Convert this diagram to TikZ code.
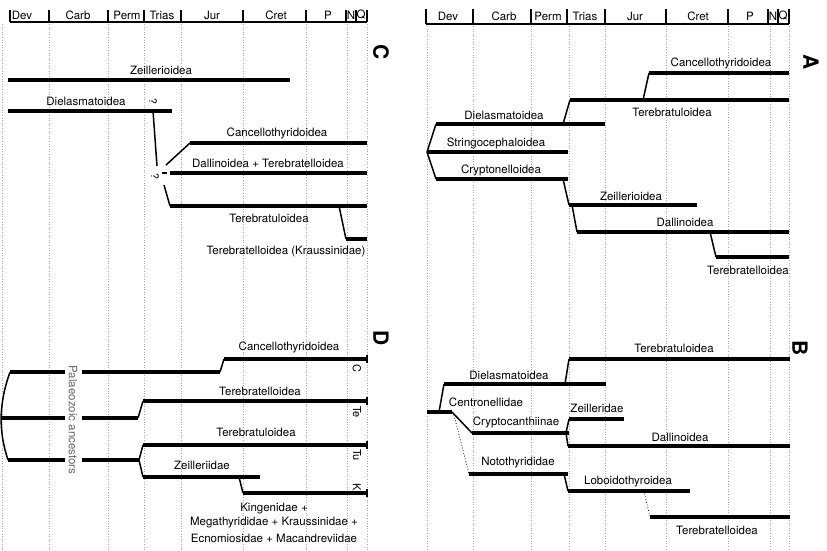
\documentclass[tikz,border=0pt]{standalone}
\usepackage{fontspec}
\setmainfont{TeX Gyre Heros}
\begin{document}
\begin{tikzpicture}[x=1pt,y=-1pt,
  lin/.style={line width=3.1pt},
  br/.style={line width=1.5pt},
  brdot/.style={line width=0.8pt, dotted},
  gridl/.style={black!35, dotted, line width=0.6pt},
  hdr/.style={line width=1.2pt},
  lbl/.style={font=\fontsize{11.5}{13}\selectfont, inner sep=0pt},
  per/.style={font=\fontsize{11.5}{13}\selectfont, inner sep=0pt},
  pan/.style={font=\bfseries\fontsize{21}{23}\selectfont, rotate=-90, inner sep=0pt},
  sml/.style={font=\fontsize{11}{12}\selectfont, rotate=-90, inner sep=0pt},
  qm/.style={font=\fontsize{10.5}{11}\selectfont, rotate=-90, inner sep=0pt}]
\useasboundingbox (0,0) rectangle (827,550);

% ---------------- grid (dotted) ----------------
\foreach \x in {2,49,108,144,181,243,306,347,367} {
  \coordinate (gl\x t) at (\x,24); \coordinate (gl\x b) at (\x,550);
  \draw[gridl] (gl\x t) -- (gl\x b);}
\foreach \x in {427,473,531,569,605,666,728,770,789} {
  \coordinate (gr\x t) at (\x,26); \coordinate (gr\x b) at (\x,550);
  \draw[gridl] (gr\x t) -- (gr\x b);}

% ---------------- headers ----------------
\coordinate (hlS) at (10,22); \coordinate (hlE) at (367,22);
\draw[hdr] (hlS) -- (hlE);
\foreach \x in {10,49,108,144,181,243,306,346,356,367} {
  \coordinate (hlt\x) at (\x,10); \coordinate (hlb\x) at (\x,22);
  \draw[hdr] (hlt\x) -- (hlb\x);}
\node[per] (lDev) at (22,15) {Dev};
\node[per] (lCarb) at (78,15) {Carb};
\node[per] (lPerm) at (127,15) {Perm};
\node[per] (lTrias) at (162,15) {Trias};
\node[per] (lJur) at (212,15) {Jur};
\node[per] (lCret) at (276,15) {Cret};
\node[per] (lP) at (328,15) {P};
\node[per] (lN) at (351,15) {N};
\node[per] (lQ) at (361,15) {Q};

\coordinate (hrS) at (426,24); \coordinate (hrE) at (789,24);
\draw[hdr] (hrS) -- (hrE);
\foreach \x in {426,473,531,567,605,666,728,768,778,789} {
  \coordinate (hrt\x) at (\x,9); \coordinate (hrb\x) at (\x,24);
  \draw[hdr] (hrt\x) -- (hrb\x);}
\node[per] (rDev) at (448,16) {Dev};
\node[per] (rCarb) at (504,16) {Carb};
\node[per] (rPerm) at (548,16) {Perm};
\node[per] (rTrias) at (585,16) {Trias};
\node[per] (rJur) at (635,16) {Jur};
\node[per] (rCret) at (698,16) {Cret};
\node[per] (rP) at (750,16) {P};
\node[per] (rN) at (773,16) {N};
\node[per] (rQ) at (783,16) {Q};

% ---------------- panel letters ----------------
\node[pan] (pC) at (381,52) {C};
\node[pan] (pD) at (381,338) {D};
\node[pan] (pA) at (811,62) {A};
\node[pan] (pB) at (800,348) {B};

% ---------------- panel C ----------------
\coordinate (cZeS) at (8,80); \coordinate (cZeE) at (290,80);
\draw[lin] (cZeS) -- (cZeE);
\node[lbl] (tcZe) at (161,70) {Zeillerioidea};
\coordinate (cDiS) at (8,111); \coordinate (cDiE) at (172,111);
\draw[lin] (cDiS) -- (cDiE);
\node[lbl] (tcDi) at (86,101) {Dielasmatoidea};
\node[qm] (q1) at (153,101) {?};
\coordinate (cDiB) at (153,111); \coordinate (cQB) at (157,166);
\draw[br] (cDiB) -- (cQB);
\node[qm] (q2) at (155,176) {?};
\coordinate (cCaJ) at (166,165); \coordinate (cCaS) at (190,143); \coordinate (cCaE) at (367,143);
\draw[br] (cCaJ) -- (cCaS); \draw[lin] (cCaS) -- (cCaE);
\node[lbl] (tcCa) at (277,133) {Cancellothyridoidea};
\coordinate (cDaD1) at (162,173); \coordinate (cDaD2) at (167,173);
\draw[br] (cDaD1) -- (cDaD2);
\coordinate (cDaS) at (170,173); \coordinate (cDaE) at (367,173);
\draw[lin] (cDaS) -- (cDaE);
\node[lbl] (tcDa) at (268,163) {Dallinoidea + Terebratelloidea};
\coordinate (cTeJ) at (164,185); \coordinate (cTeS) at (170,206); \coordinate (cTeE) at (367,206);
\draw[br] (cTeJ) -- (cTeS); \draw[lin] (cTeS) -- (cTeE);
\node[lbl] (tcTe) at (269,218) {Terebratuloidea};
\coordinate (cKrJ) at (339,206); \coordinate (cKrS) at (346,239); \coordinate (cKrE) at (367,239);
\draw[br] (cKrJ) -- (cKrS); \draw[lin] (cKrS) -- (cKrE);
\node[lbl] (tcKr) at (286,252) {Terebratelloidea (Kraussinidae)};

% ---------------- panel D ----------------
\coordinate (dRoot) at (1,418);
\coordinate (dT0) at (10,372); \coordinate (dTg1) at (65,372);
\coordinate (dTg2) at (82,372); \coordinate (dTj) at (220,372);
\coordinate (dTs) at (224,359); \coordinate (dTe) at (367,359);
\draw[br] (dRoot) to[bend left=8] (dT0);
\draw[lin] (dT0) -- (dTg1); \draw[lin] (dTg2) -- (dTj);
\draw[br] (dTj) -- (dTs); \draw[lin] (dTs) -- (dTe);
\coordinate (dMg1) at (65,418); \coordinate (dMg2) at (82,418);
\coordinate (dMj) at (138,418); \coordinate (dMs) at (143,401); \coordinate (dMe) at (367,401);
\draw[lin] (dRoot) -- (dMg1); \draw[lin] (dMg2) -- (dMj);
\draw[br] (dMj) -- (dMs); \draw[lin] (dMs) -- (dMe);
\coordinate (dB0) at (8,460); \coordinate (dBg1) at (65,460);
\coordinate (dBg2) at (82,460); \coordinate (dBj) at (139,460);
\draw[br] (dRoot) to[bend right=8] (dB0);
\draw[lin] (dB0) -- (dBg1); \draw[lin] (dBg2) -- (dBj);
\coordinate (dBu) at (143,445); \coordinate (dBue) at (367,445);
\draw[br] (dBj) -- (dBu); \draw[lin] (dBu) -- (dBue);
\coordinate (dBd) at (143,477); \coordinate (dZe) at (260,477);
\draw[br] (dBj) -- (dBd); \draw[lin] (dBd) -- (dZe);
\coordinate (dKJ) at (239,477); \coordinate (dKS) at (243,493); \coordinate (dKE) at (367,493);
\draw[br] (dKJ) -- (dKS); \draw[lin] (dKS) -- (dKE);
\foreach \y in {359,401,445,493} {
  \coordinate (dtk\y a) at (367,\y-4); \coordinate (dtk\y b) at (367,\y+4);
  \draw[line width=1.1pt] (dtk\y a) -- (dtk\y b);}
\node[lbl, rotate=-90, text=black!60] (tdPa) at (73,420) {Palaeozoic ancestors};
\node[lbl] (tdCa) at (289,347) {Cancellothyridoidea};
\node[sml] (sC) at (357,368) {C};
\node[lbl] (tdTe) at (260,391) {Terebratelloidea};
\node[sml] (sTe) at (357,412) {Te};
\node[lbl] (tdTu) at (256,432) {Terebratuloidea};
\node[sml] (sTu) at (357,455) {Tu};
\node[lbl] (tdZe) at (202,465) {Zeilleriidae};
\node[sml] (sK) at (357,487) {K};
\node[lbl] (tdK1) at (274,509) {Kingenidae +};
\node[lbl] (tdK2) at (274,523) {Megathyrididae + Kraussinidae +};
\node[lbl] (tdK3) at (274,538) {Ecnomiosidae + Macandreviidae};

% ---------------- panel A ----------------
\coordinate (aRoot) at (427,152);
\coordinate (aDiS) at (436,124); \coordinate (aDiE) at (605,124);
\draw[br] (aRoot) -- (aDiS); \draw[lin] (aDiS) -- (aDiE);
\node[lbl] (taDi) at (504,115) {Dielasmatoidea};
\coordinate (aTeJ) at (563,124); \coordinate (aTeS) at (570,100); \coordinate (aTeE) at (789,100);
\draw[br] (aTeJ) -- (aTeS); \draw[lin] (aTeS) -- (aTeE);
\node[lbl] (taTe) at (672,112) {Terebratuloidea};
\coordinate (aCaJ) at (643,100); \coordinate (aCaS) at (649,73); \coordinate (aCaE) at (789,73);
\draw[br] (aCaJ) -- (aCaS); \draw[lin] (aCaS) -- (aCaE);
\node[lbl] (taCa) at (721,63) {Cancellothyridoidea};
\coordinate (aStE) at (568,152);
\draw[lin] (aRoot) -- (aStE);
\node[lbl] (taSt) at (496,143) {Stringocephaloidea};
\coordinate (aCrS) at (436,179); \coordinate (aCrE) at (568,179);
\draw[br] (aRoot) -- (aCrS); \draw[lin] (aCrS) -- (aCrE);
\node[lbl] (taCr) at (501,170) {Cryptonelloidea};
\coordinate (aZeJ) at (563,179); \coordinate (aZeS) at (569,205); \coordinate (aZeE) at (697,205);
\draw[br] (aZeJ) -- (aZeS); \draw[lin] (aZeS) -- (aZeE);
\node[lbl] (taZe) at (631,196) {Zeillerioidea};
\coordinate (aDaJ) at (572,205); \coordinate (aDaS) at (577,232); \coordinate (aDaE) at (789,232);
\draw[br] (aDaJ) -- (aDaS); \draw[lin] (aDaS) -- (aDaE);
\node[lbl] (taDa) at (685,222) {Dallinoidea};
\coordinate (aTlJ) at (710,232); \coordinate (aTlS) at (716,257); \coordinate (aTlE) at (789,257);
\draw[br] (aTlJ) -- (aTlS); \draw[lin] (aTlS) -- (aTlE);
\node[lbl] (taTl) at (748,270) {Terebratelloidea};

% ---------------- panel B ----------------
\coordinate (bRoot) at (427,412); \coordinate (bCeE) at (452,412);
\draw[lin] (bRoot) -- (bCeE);
\node[lbl] (tbCe) at (486,402) {Centronellidae};
\coordinate (bCeJ) at (439,412); \coordinate (bDiS) at (444,384); \coordinate (bDiE) at (606,384);
\draw[br] (bCeJ) -- (bDiS); \draw[lin] (bDiS) -- (bDiE);
\node[lbl] (tbDi) at (509,375) {Dielasmatoidea};
\coordinate (bTeJ) at (565,384); \coordinate (bTeS) at (569,359); \coordinate (bTeE) at (790,359);
\draw[br] (bTeJ) -- (bTeS); \draw[lin] (bTeS) -- (bTeE);
\node[lbl] (tbTe) at (674,348) {Terebratuloidea};
\coordinate (bCrS) at (472,433); \coordinate (bCrE) at (569,433);
\draw[br] (bCeE) -- (bCrS); \draw[lin] (bCrS) -- (bCrE);
\node[lbl] (tbCr) at (516,422) {Cryptocanthiinae};
\coordinate (bZJ) at (566,433); \coordinate (bZS) at (569,419); \coordinate (bZE) at (624,419);
\draw[br] (bZJ) -- (bZS); \draw[lin] (bZS) -- (bZE);
\node[lbl] (tbZe) at (597,408) {Zeilleridae};
\coordinate (bDaS) at (568,446); \coordinate (bDaE) at (790,446);
\draw[br] (bZJ) -- (bDaS); \draw[lin] (bDaS) -- (bDaE);
\node[lbl] (tbDa) at (680,437) {Dallinoidea};
\coordinate (bNoJ) at (454,415); \coordinate (bNoS) at (469,474); \coordinate (bNoE) at (568,474);
\draw[brdot] (bNoJ) -- (bNoS); \draw[lin] (bNoS) -- (bNoE);
\node[lbl] (tbNo) at (518,463) {Notothyrididae};
\coordinate (bLoJ) at (564,474); \coordinate (bLoS) at (568,491); \coordinate (bLoE) at (690,491);
\draw[br] (bLoJ) -- (bLoS); \draw[lin] (bLoS) -- (bLoE);
\node[lbl] (tbLo) at (628,482) {Loboidothyroidea};
\coordinate (bTlJ) at (644,491); \coordinate (bTlS) at (650,517); \coordinate (bTlE) at (790,517);
\draw[brdot] (bTlJ) -- (bTlS); \draw[lin] (bTlS) -- (bTlE);
\node[lbl] (tbTl) at (717,530) {Terebratelloidea};
\end{tikzpicture}
\end{document}
